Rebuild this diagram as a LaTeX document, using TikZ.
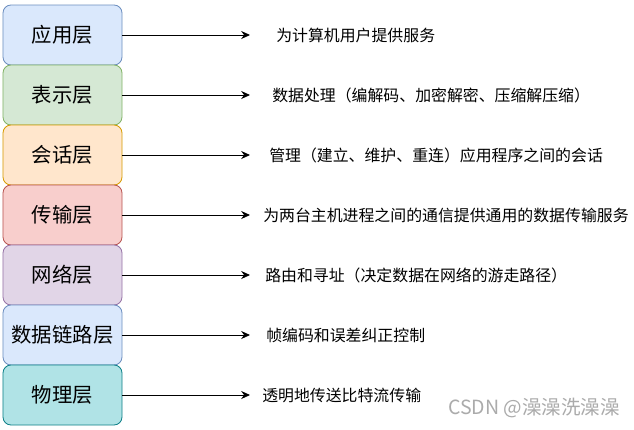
\documentclass[tikz,border=0pt]{standalone}
\usepackage{fontspec}
\setmainfont{Noto Sans CJK SC}
\usetikzlibrary{positioning,arrows.meta}
\definecolor{blueF}{HTML}{DAE8FC}\definecolor{blueD}{HTML}{6C8EBF}
\definecolor{greenF}{HTML}{D5E8D4}\definecolor{greenD}{HTML}{82B366}
\definecolor{orangeF}{HTML}{FFE6CC}\definecolor{orangeD}{HTML}{D79B00}
\definecolor{redF}{HTML}{F8CECC}\definecolor{redD}{HTML}{B85450}
\definecolor{purpleF}{HTML}{E1D5E7}\definecolor{purpleD}{HTML}{9673A6}
\definecolor{tealF}{HTML}{B0E3E6}\definecolor{tealD}{HTML}{0E8088}
\tikzset{node distance=0cm, auto}
\tikzset{layer/.style={draw, rounded corners=0.2cm, line width=0.6pt, outer sep=0pt,
    minimum width=2.975cm, minimum height=1.5cm, font=\fontsize{14.5}{16}\selectfont},
  desc/.style={anchor=west, inner sep=0pt, font=\fontsize{11.3}{13}\selectfont},
  conn/.style={-{Stealth[length=2.2mm,width=2mm]}, line width=0.6pt}}

\begin{document}
\begin{tikzpicture}

           \useasboundingbox[fill=white] (0,0) rectangle (15.85,-10.725);

           \node[layer, fill=blueF, draw=blueD] (App) at (1.5625,-0.875) {应用层};
           \node[layer, fill=greenF, draw=greenD] (Pres) [below=of App] {表示层};
           \node[layer, fill=orangeF, draw=orangeD] (Sess) [below=of Pres] {会话层};
           \node[layer, fill=redF, draw=redD] (Trans) [below=of Sess] {传输层};
           \node[layer, fill=purpleF, draw=purpleD] (Net) [below=of Trans] {网络层};
           \node[layer, fill=blueF, draw=blueD] (Link) [below=of Net] {数据链路层};
           \node[layer, fill=tealF, draw=tealD] (Phys) [below=of Link] {物理层};

           \coordinate (tip) at (6.25,0);

           \node[desc] (AppD) at ([xshift=0.65cm]App -| tip) {为计算机用户提供服务};
           \node[desc] (PresD) at ([xshift=0.55cm]Pres -| tip) {数据处理（编解码、加密解密、压缩解压缩）};
           \node[desc] (SessD) at ([xshift=0.475cm]Sess -| tip) {管理（建立、维护、重连）应用程序之间的会话};
           \node[desc] (TransD) at ([xshift=0.325cm]Trans -| tip) {为两台主机进程之间的通信提供通用的数据传输服务};
           \node[desc] (NetD) at ([xshift=0.375cm]Net -| tip) {路由和寻址（决定数据在网络的游走路径）};
           \node[desc] (LinkD) at ([xshift=0.4cm]Link -| tip) {帧编码和误差纠正控制};
           \node[desc] (PhysD) at ([xshift=0.3cm]Phys -| tip) {透明地传送比特流传输};

           \draw[conn] (App) -- (App -| tip);
           \draw[conn] (Pres) -- (Pres -| tip);
           \draw[conn] (Sess) -- (Sess -| tip);
           \draw[conn] (Trans) -- (Trans -| tip);
           \draw[conn] (Net) -- (Net -| tip);
           \draw[conn] (Link) -- (Link -| tip);
           \draw[conn] (Phys) -- (Phys -| tip);

           \node[anchor=west, inner sep=0pt, text=black!33, font=\fontsize{13.9}{16}\selectfont] (Mark) at (11.2,-10.2) {CSDN @澡澡洗澡澡};

         \end{tikzpicture}
\end{document}
